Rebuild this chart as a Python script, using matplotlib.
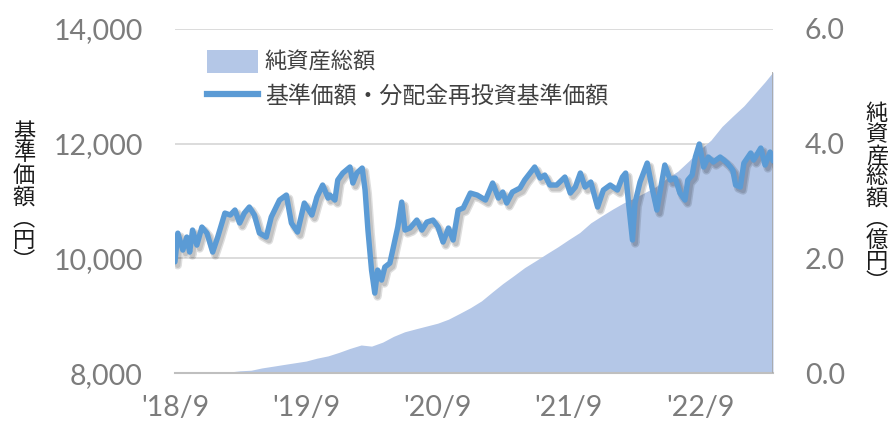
import matplotlib
matplotlib.use("Agg")
import matplotlib.pyplot as plt
import matplotlib.patheffects as pe
from matplotlib.patches import Patch
from matplotlib.lines import Line2D
import pandas as pd

# 基準価額・分配金再投資基準価額 (円)
nav_dates = [
    "2018-09-01", "2018-09-09", "2018-09-23", "2018-10-04", "2018-10-12", "2018-10-20",
    "2018-11-01", "2018-11-15", "2018-11-29", "2018-12-15", "2018-12-29", "2019-01-18",
    "2019-02-02", "2019-02-15", "2019-02-28", "2019-03-13", "2019-03-27", "2019-04-10",
    "2019-04-24", "2019-05-13", "2019-05-27", "2019-06-19", "2019-07-08", "2019-07-22",
    "2019-08-08", "2019-08-27", "2019-09-17", "2019-10-01", "2019-10-17", "2019-11-01",
    "2019-11-06", "2019-11-20", "2019-11-28", "2019-12-12", "2020-01-01", "2020-01-09",
    "2020-01-20", "2020-02-04", "2020-02-12", "2020-02-20", "2020-03-01", "2020-03-10",
    "2020-03-18", "2020-03-29", "2020-04-07", "2020-04-21", "2020-04-29", "2020-05-13",
    "2020-05-24", "2020-06-02", "2020-06-16", "2020-07-05", "2020-07-19", "2020-08-02",
    "2020-08-19", "2020-09-02", "2020-09-16", "2020-10-01", "2020-10-14", "2020-10-28",
    "2020-11-11", "2020-12-01", "2020-12-20", "2021-01-12", "2021-02-01", "2021-02-17",
    "2021-03-01", "2021-03-12", "2021-03-28", "2021-04-18", "2021-05-01", "2021-05-29",
    "2021-06-13", "2021-06-26", "2021-07-10", "2021-07-29", "2021-08-21", "2021-09-05",
    "2021-09-19", "2021-10-03", "2021-10-16", "2021-11-01", "2021-11-20", "2021-12-06",
    "2021-12-25", "2022-01-14", "2022-01-28", "2022-02-06", "2022-02-14", "2022-02-25",
    "2022-03-04", "2022-03-18", "2022-04-07", "2022-04-20", "2022-05-04", "2022-05-12",
    "2022-05-26", "2022-06-10", "2022-06-24", "2022-07-07", "2022-07-21", "2022-07-29",
    "2022-08-10", "2022-08-19", "2022-08-30", "2022-09-11", "2022-09-24", "2022-10-08",
    "2022-10-27", "2022-11-16", "2022-12-01", "2022-12-09", "2022-12-22", "2023-01-01",
    "2023-01-20", "2023-01-28", "2023-02-17", "2023-03-01", "2023-03-15", "2023-03-23",
]
nav_values = [
    9940, 10440, 10145, 10372, 10110, 10494,
    10232, 10546, 10442, 10110, 10372, 10790,
    10756, 10843, 10616, 10790, 10895, 10756,
    10442, 10372, 10721, 11017, 11104, 10616,
    10459, 10965, 10756, 11069, 11279, 11052,
    11104, 11017, 11366, 11488, 11593, 11314,
    11488, 11575, 11192, 10494, 9796, 9395,
    9796, 9622, 9849, 9918, 10145, 10546,
    10982, 10494, 10529, 10668, 10494, 10633,
    10668, 10546, 10285, 10529, 10320, 10843,
    10878, 11139, 11104, 11017, 11314, 11052,
    11157, 10965, 11157, 11226, 11366, 11593,
    11401, 11453, 11279, 11279, 11418, 11139,
    11244, 11488, 11244, 11331, 10895, 11192,
    11279, 11192, 11418, 11488, 10965, 10320,
    10965, 11331, 11662, 11244, 10843, 11139,
    11628, 11366, 11401, 11139, 11017, 11366,
    11453, 11767, 11994, 11593, 11767, 11680,
    11767, 11662, 11540, 11279, 11244, 11662,
    11837, 11715, 11924, 11628, 11854, 11700,
]

# 純資産総額 (億円), month starts plus the last date
aum_dates = list(pd.date_range("2018-09-01", periods=55, freq="MS").strftime("%Y-%m-%d")) + ["2023-03-23"]
aum_values = [
    0.02, 0.02, 0.02, 0.01, 0.005, 0.02, 0.04, 0.05, 0.09, 0.12,
    0.15, 0.18, 0.21, 0.26, 0.30, 0.36, 0.43, 0.49, 0.47, 0.54,
    0.64, 0.72, 0.77, 0.82, 0.87, 0.94, 1.04, 1.14, 1.26, 1.42,
    1.56, 1.70, 1.84, 1.96, 2.08, 2.20, 2.33, 2.45, 2.62, 2.74,
    2.86, 2.97, 3.05, 3.15, 3.25, 3.40, 3.52, 3.70, 3.90, 4.06,
    4.30, 4.48, 4.66, 4.88, 5.08, 5.25,
]

tick_dates = ["2018-09-01", "2019-09-01", "2020-09-01", "2021-09-01", "2022-09-01"]
tick_labels = ["'18/9", "'19/9", "'20/9", "'21/9", "'22/9"]

JP = ["Noto Sans CJK JP", "DejaVu Sans"]
NUM = ["Lato", "DejaVu Sans"]
GREY = "#7c7c7c"
LINE_C = "#5b9bd5"
AREA_C = "#b4c7e7"

nav_x = pd.to_datetime(nav_dates)
aum_x = pd.to_datetime(aum_dates)

fig = plt.figure(figsize=(8.88, 4.23), dpi=100)
ax = fig.add_axes([0.197, 0.118, 0.6735, 0.8135])
ax2 = ax.twinx()

# area on the right axis, grid lives there so it stays behind the fill
ax2.fill_between(aum_x, 0, aum_values, color=AREA_C, lw=0, zorder=2)
ax2.vlines(aum_x[-1], 0, aum_values[-1], color="#a6a6a6", lw=1.2, zorder=3)
ax2.set_ylim(0, 6)
ax2.set_yticks([0, 2, 4, 6])
ax2.set_yticklabels([f"{v:.1f}" for v in [0, 2, 4, 6]])
ax2.grid(axis="y", color="#d9d9d9", lw=1.3, zorder=0)
ax2.set_axisbelow(True)

ax.set_zorder(ax2.get_zorder() + 1)
ax.patch.set_visible(False)
ax.plot(nav_x, nav_values, color=LINE_C, lw=3.9, solid_joinstyle="round",
        solid_capstyle="round",
        path_effects=[pe.SimpleLineShadow(offset=(2, -2.5), shadow_color="black", alpha=0.13,
                                          linewidth=6),
                      pe.SimpleLineShadow(offset=(2, -2.5), shadow_color="black", alpha=0.12),
                      pe.Normal()])
ax.set_ylim(8000, 14000)
ax.set_yticks([8000, 10000, 12000, 14000])
ax.set_yticklabels([f"{v:,}" for v in [8000, 10000, 12000, 14000]])
ax.set_xlim(pd.Timestamp("2018-09-01"), pd.Timestamp("2023-03-23"))
ax.set_xticks(pd.to_datetime(tick_dates))
ax.set_xticklabels(tick_labels)

for a in (ax, ax2):
    for s in a.spines.values():
        s.set_visible(False)
    a.tick_params(length=0, labelsize=20.5, labelcolor=GREY)
    for lab in a.get_xticklabels() + a.get_yticklabels():
        lab.set_family(NUM)
ax2.spines["bottom"].set_visible(True)
ax2.spines["bottom"].set_color("#bfbfbf")
ax2.spines["bottom"].set_linewidth(1.5)
ax.tick_params(axis="y", pad=23)
ax2.tick_params(axis="y", pad=23)
ax.tick_params(axis="x", pad=16)

# vertical axis titles
fig.text(24 / 888, 1 - 197 / 423, "\n".join("基準価額") + "\n︵\n円\n︶", family=JP,
         fontsize=16, ha="center", va="center", linespacing=0.92, color="#1a1a1a")
fig.text(877 / 888, 1 - 198 / 423, "\n".join("純資産総額") + "\n︵\n億\n円\n︶", family=JP,
         fontsize=16, ha="center", va="center", linespacing=0.9, color="#1a1a1a")

handles = [Patch(facecolor=AREA_C, edgecolor="none"),
           Line2D([], [], color=LINE_C, lw=4.5)]
leg = fig.legend(handles, ["純資産総額", "基準価額・分配金再投資基準価額"],
                 loc="upper left", bbox_to_anchor=(187 / 888, 1 - 30 / 423),
                 frameon=False, prop={"family": JP, "size": 16},
                 handlelength=2.3, handleheight=1.2, handletextpad=0.3, labelspacing=0.5,
                 labelcolor="#404040")
leg.get_texts()[1].set_fontsize(16.5)

fig.savefig("out.png", dpi=100)
